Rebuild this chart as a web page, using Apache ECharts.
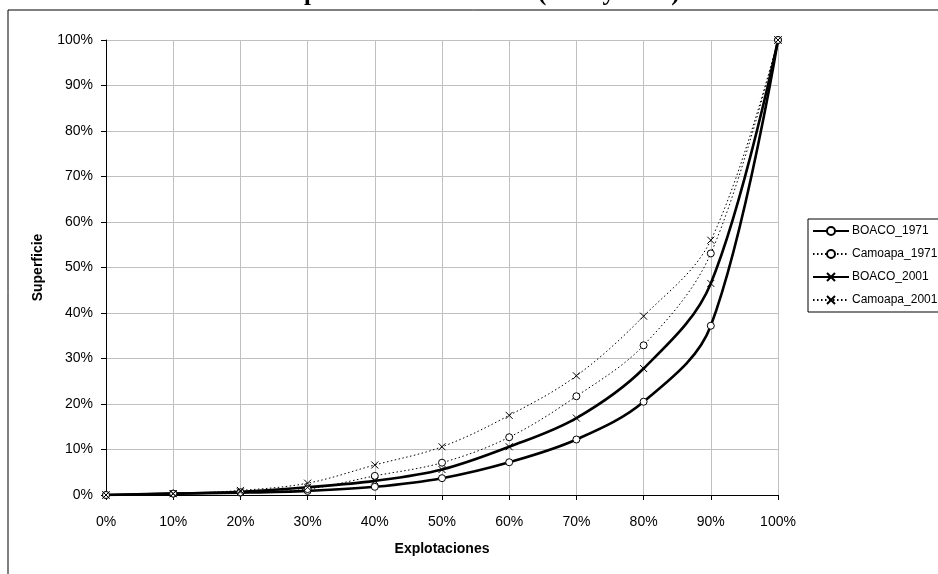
<!DOCTYPE html>
<html>
<head>
<meta charset="utf-8">
<script src="https://cdn.jsdelivr.net/npm/echarts@6/dist/echarts.min.js"></script>
<style>
  html, body { margin: 0; padding: 0; background: #fff; }
  #chart { width: 938px; height: 574px; }
</style>
</head>
<body>
<div id="chart"></div>
<script>
// porcentaje acumulado de explotaciones (eje x)
const explotaciones = [0, 10, 20, 30, 40, 50, 60, 70, 80, 90, 100];

// porcentaje acumulado de superficie
const boaco1971   = [0, 0.3, 0.5, 0.9, 1.8, 3.7, 7.2, 12.2, 20.5, 37.2, 100];
const camoapa1971 = [0, 0.3, 0.6, 1.3, 4.2, 7.1, 12.7, 21.7, 32.9, 53.1, 100];
const boaco2001   = [0, 0.3, 0.7, 1.7, 3.1, 5.6, 10.6, 16.9, 27.8, 46.5, 100];
const camoapa2001 = [0, 0.3, 1.0, 2.6, 6.6, 10.6, 17.5, 26.2, 39.3, 56.0, 100];

const seriesNames = ['BOACO_1971', 'Camoapa_1971', 'BOACO_2001', 'Camoapa_2001'];

const chart = echarts.init(document.getElementById('chart'));

const crossSymbol = 'path://M0,0L10,10M10,0L0,10';

function pairs(values) {
    return explotaciones.map((x, i) => [x, values[i]]);
}

function makeSeries(name, values, symbol, dotted) {
    return {
        name: name,
        type: 'line',
        data: pairs(values),
        smooth: 0.35,
        symbol: symbol,
        symbolSize: 7,
        showAllSymbol: true,
        lineStyle: {
            color: '#000',
            width: dotted ? 1 : 2.6,
            type: dotted ? [1.5, 2.5] : 'solid'
        },
        itemStyle: {
            color: '#fff',
            borderColor: '#000',
            borderWidth: 1
        },
        emphasis: { disabled: true }
    };
}

const option = {
    animation: false,
    textStyle: { fontFamily: 'Liberation Sans, Arial, sans-serif' },
    graphic: [{
        type: 'rect',
        shape: { x: 8, y: 10, width: 960, height: 600 },
        style: { fill: 'none', stroke: '#000', lineWidth: 1 },
        z: -1
    }, {
        // el titulo queda cortado por el borde superior
        type: 'text',
        left: 279,
        top: -19,
        style: {
            text: 'departamento de Boaco (1971 y 2001)',
            font: 'bold 25px "Liberation Serif", "Times New Roman", serif',
            fill: '#000'
        }
    }],
    legend: {
        orient: 'vertical',
        left: 808,
        top: 219,
        data: seriesNames,
        itemWidth: 36,
        itemHeight: 10,
        itemGap: 11,
        padding: [6, 4, 6, 4],
        borderColor: '#000',
        borderWidth: 1,
        backgroundColor: '#fff',
        textStyle: { fontSize: 12, color: '#000', padding: [0, 0, 0, -2] }
    },
    grid: {
        left: 106,
        top: 40,
        right: 160,
        bottom: 79
    },
    xAxis: {
        type: 'value',
        min: 0,
        max: 100,
        interval: 10,
        name: 'Explotaciones',
        nameLocation: 'middle',
        nameGap: 47,
        nameTextStyle: { fontWeight: 'bold', fontSize: 14, color: '#000' },
        axisLine: { lineStyle: { color: '#000', width: 1 } },
        axisTick: { show: true, inside: false, length: 5, lineStyle: { color: '#000' } },
        axisLabel: { formatter: '{value}%', fontSize: 14, color: '#000', margin: 20 },
        splitLine: { show: true, lineStyle: { color: '#c0c0c0', width: 1 } }
    },
    yAxis: {
        type: 'value',
        min: 0,
        max: 100,
        interval: 10,
        name: 'Superficie',
        nameLocation: 'middle',
        nameGap: 61,
        nameTextStyle: { fontWeight: 'bold', fontSize: 14, color: '#000' },
        axisLine: { show: true, lineStyle: { color: '#000', width: 1 } },
        axisTick: { show: true, inside: false, length: 5, lineStyle: { color: '#000' } },
        axisLabel: { formatter: '{value}%', fontSize: 14, color: '#000', margin: 13 },
        splitLine: { show: true, lineStyle: { color: '#c0c0c0', width: 1 } }
    },
    series: [
        makeSeries('BOACO_1971', boaco1971, 'circle', false),
        makeSeries('Camoapa_1971', camoapa1971, 'circle', true),
        makeSeries('BOACO_2001', boaco2001, crossSymbol, false),
        makeSeries('Camoapa_2001', camoapa2001, crossSymbol, true)
    ]
};

chart.setOption(option);
</script>
</body>
</html>
